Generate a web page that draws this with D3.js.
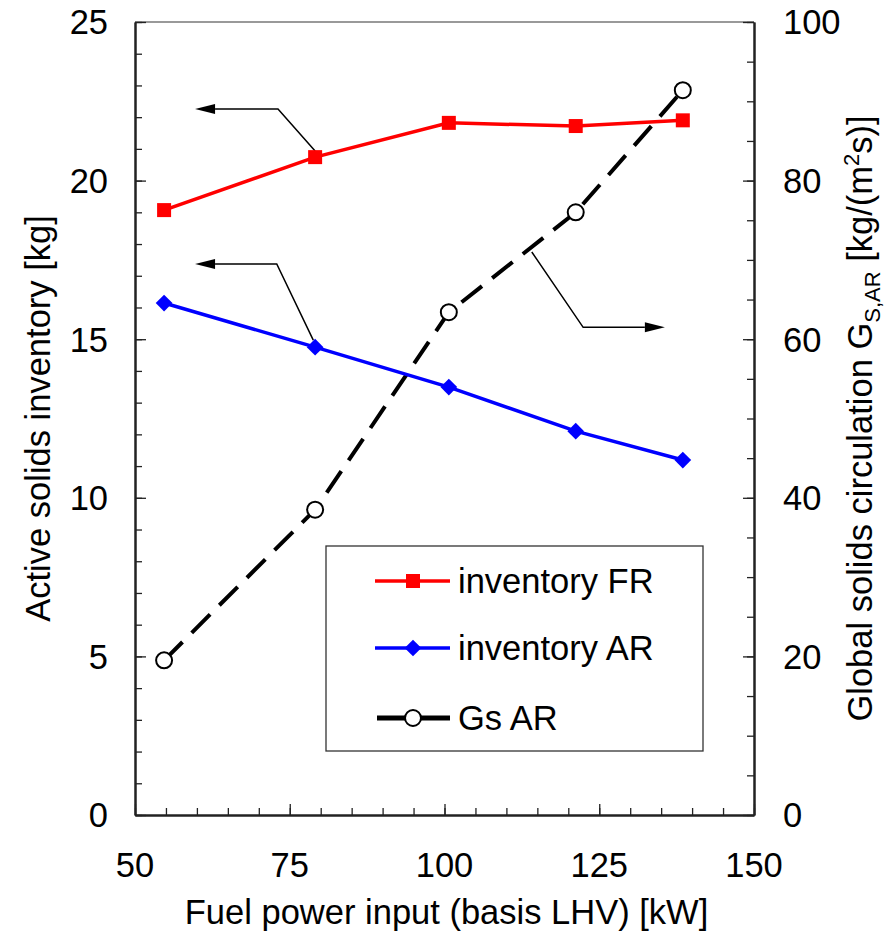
<!DOCTYPE html>
<html>
<head>
<meta charset="utf-8">
<script src="https://cdn.jsdelivr.net/npm/d3@7"></script>
<style>
  body { margin: 0; background: #fff; }
  svg { font-family: "Liberation Sans", Arial, sans-serif; }
</style>
</head>
<body>
<svg id="chart" width="894" height="936"></svg>
<script>
// fuel power input [kW]
let power = [54.7, 79.1, 100.7, 121.2, 138.5];
// active solids inventory [kg]
let invFR = [19.07, 20.74, 21.82, 21.72, 21.9];
let invAR = [16.14, 14.75, 13.49, 12.1, 11.19];
// global solids circulation [kg/(m2 s)]
let gsAR = [19.5, 38.5, 63.4, 76.0, 91.4];

let xTicks = [50, 75, 100, 125, 150];
let yLeftTicks = [0, 5, 10, 15, 20, 25];
let yRightTicks = [0, 20, 40, 60, 80, 100];

let legendNames = ["inventory FR", "inventory AR", "Gs AR"];

let margin = {top: 22, right: 140, bottom: 121, left: 135},
    width = 894 - margin.left - margin.right,
    height = 936 - margin.top - margin.bottom,
    fontSize = 34.5;

let svg = d3.select("#chart");
let g = svg.append("g")
    .attr("transform", "translate(" + margin.left + "," + margin.top + ")");

let x = d3.scaleLinear().domain([50, 150]).range([0, width]);
let yL = d3.scaleLinear().domain([0, 25]).range([height, 0]);
let yR = d3.scaleLinear().domain([0, 100]).range([height, 0]);

// frame
g.append("line").attr("x1", 0).attr("x2", width).attr("y1", 0).attr("y2", 0)
    .attr("stroke", "#777").attr("stroke-width", 1.5);

// axes, ticks pointing inward
function axisGroup(axis, tf) {
    let a = g.append("g").attr("transform", tf).call(axis);
    a.select(".domain").attr("stroke", "#222").attr("stroke-width", 2);
    a.selectAll("line").attr("stroke", "#222").attr("stroke-width", 1.3);
    a.selectAll("text").remove();
    return a;
}

axisGroup(d3.axisBottom(x).tickValues(d3.range(50, 151, 5)).tickSize(-7).tickSizeOuter(0), "translate(0," + height + ")");
axisGroup(d3.axisBottom(x).tickValues(xTicks).tickSize(-11).tickSizeOuter(0), "translate(0," + height + ")");
axisGroup(d3.axisLeft(yL).tickValues(d3.range(0, 26, 1)).tickSize(-7).tickSizeOuter(0), null);
axisGroup(d3.axisLeft(yL).tickValues(yLeftTicks).tickSize(-11).tickSizeOuter(0), null);
axisGroup(d3.axisRight(yR).tickValues(d3.range(0, 101, 5)).tickSize(-7).tickSizeOuter(0), "translate(" + width + ",0)");
axisGroup(d3.axisRight(yR).tickValues(yRightTicks).tickSize(-11).tickSizeOuter(0), "translate(" + width + ",0)");

// tick labels
g.selectAll(".xl").data(xTicks).enter().append("text")
    .attr("x", d => x(d)).attr("y", height + 62)
    .attr("text-anchor", "middle").attr("font-size", fontSize).text(d => d);
g.selectAll(".yl").data(yLeftTicks).enter().append("text")
    .attr("x", -27).attr("y", d => yL(d)).attr("dy", "0.36em")
    .attr("text-anchor", "end").attr("font-size", fontSize).text(d => d);
g.selectAll(".yr").data(yRightTicks).enter().append("text")
    .attr("x", width + 29).attr("y", d => yR(d)).attr("dy", "0.36em")
    .attr("text-anchor", "start").attr("font-size", fontSize).text(d => d);

// axis titles
g.append("text").attr("x", width / 2 + 2).attr("y", height + 109)
    .attr("text-anchor", "middle").attr("font-size", fontSize)
    .text("Fuel power input (basis LHV) [kW]");
g.append("text").attr("transform", "translate(-85," + (height / 2) + ") rotate(-90)")
    .attr("text-anchor", "middle").attr("font-size", fontSize)
    .text("Active solids inventory [kg]");
let rt = g.append("text").attr("transform", "translate(" + (width + 118) + "," + (height / 2) + ") rotate(-90)")
    .attr("text-anchor", "middle").attr("font-size", fontSize);
rt.append("tspan").text("Global solids circulation G");
rt.append("tspan").attr("font-size", 22).attr("dy", 8).text("S,AR");
rt.append("tspan").attr("dy", -8).text(" [kg/(m");
rt.append("tspan").attr("font-size", 22).attr("dy", -13).text("2");
rt.append("tspan").attr("dy", 13).text("s)]");

// annotation arrows (data coordinates)
function arrow(pts, yScale, dir) {
    let p = pts.map(d => [x(d[0]), yScale(d[1])]);
    let tip = p[p.length - 1];
    let base = [tip[0] - dir * 20, tip[1]];
    p[p.length - 1] = base;
    g.append("path").attr("d", d3.line()(p))
        .attr("fill", "none").attr("stroke", "#000").attr("stroke-width", 1.5);
    g.append("path")
        .attr("d", "M" + tip[0] + "," + tip[1] + "L" + base[0] + "," + (tip[1] - 5) +
            "L" + base[0] + "," + (tip[1] + 5) + "Z")
        .attr("fill", "#000");
}
arrow([[79.1, 20.93], [73.1, 22.26], [59.7, 22.26]], yL, -1);
arrow([[78.8, 14.97], [72.9, 17.37], [59.7, 17.37]], yL, -1);
arrow([[114.1, 71.0], [122.4, 61.5], [135.6, 61.5]], yR, 1);

// series
let lineL = d3.line().x((d, i) => x(power[i])).y(d => yL(d));
let lineR = d3.line().x((d, i) => x(power[i])).y(d => yR(d));

g.append("path").attr("d", lineR(gsAR)).attr("fill", "none")
    .attr("stroke", "#000").attr("stroke-width", 4).attr("stroke-dasharray", "26,13");
g.append("path").attr("d", lineL(invFR)).attr("fill", "none")
    .attr("stroke", "#ff0000").attr("stroke-width", 3.5);
g.append("path").attr("d", lineL(invAR)).attr("fill", "none")
    .attr("stroke", "#0000ff").attr("stroke-width", 3.5);

let sq = d3.symbol().type(d3.symbolSquare).size(196);
let dia = d3.symbol().type(d3.symbolSquare).size(140);

g.selectAll(".fr").data(invFR).enter().append("path")
    .attr("d", sq).attr("fill", "#ff0000")
    .attr("transform", (d, i) => "translate(" + x(power[i]) + "," + yL(d) + ")");
g.selectAll(".ar").data(invAR).enter().append("path")
    .attr("d", dia).attr("fill", "#0000ff")
    .attr("transform", (d, i) => "translate(" + x(power[i]) + "," + yL(d) + ") rotate(45)");
g.selectAll(".gs").data(gsAR).enter().append("circle")
    .attr("cx", (d, i) => x(power[i])).attr("cy", d => yR(d)).attr("r", 8)
    .attr("fill", "#fff").attr("stroke", "#000").attr("stroke-width", 2);

// legend
let lg = svg.append("g").attr("transform", "translate(326,546)");
lg.append("rect").attr("width", 377).attr("height", 205)
    .attr("fill", "#fff").attr("stroke", "#333").attr("stroke-width", 1.3);
let legendY = [35, 102, 172];
let legendColor = ["#ff0000", "#0000ff", "#000"];
legendNames.forEach(function(name, i) {
    let ly = legendY[i];
    lg.append("line").attr("x1", i == 2 ? 51 : 49).attr("x2", 124).attr("y1", ly).attr("y2", ly)
        .attr("stroke", legendColor[i]).attr("stroke-width", i == 2 ? 5 : 3.5);
    if (i == 0) {
        lg.append("path").attr("d", sq).attr("fill", legendColor[i])
            .attr("transform", "translate(87," + ly + ")");
    } else if (i == 1) {
        lg.append("path").attr("d", dia).attr("fill", legendColor[i])
            .attr("transform", "translate(87," + ly + ") rotate(45)");
    } else {
        lg.append("circle").attr("cx", 87).attr("cy", ly).attr("r", 8)
            .attr("fill", "#fff").attr("stroke", "#000").attr("stroke-width", 2);
    }
    lg.append("text").attr("x", 132).attr("y", ly).attr("dy", "0.36em")
        .attr("font-size", fontSize).text(name);
});
</script>
</body>
</html>
